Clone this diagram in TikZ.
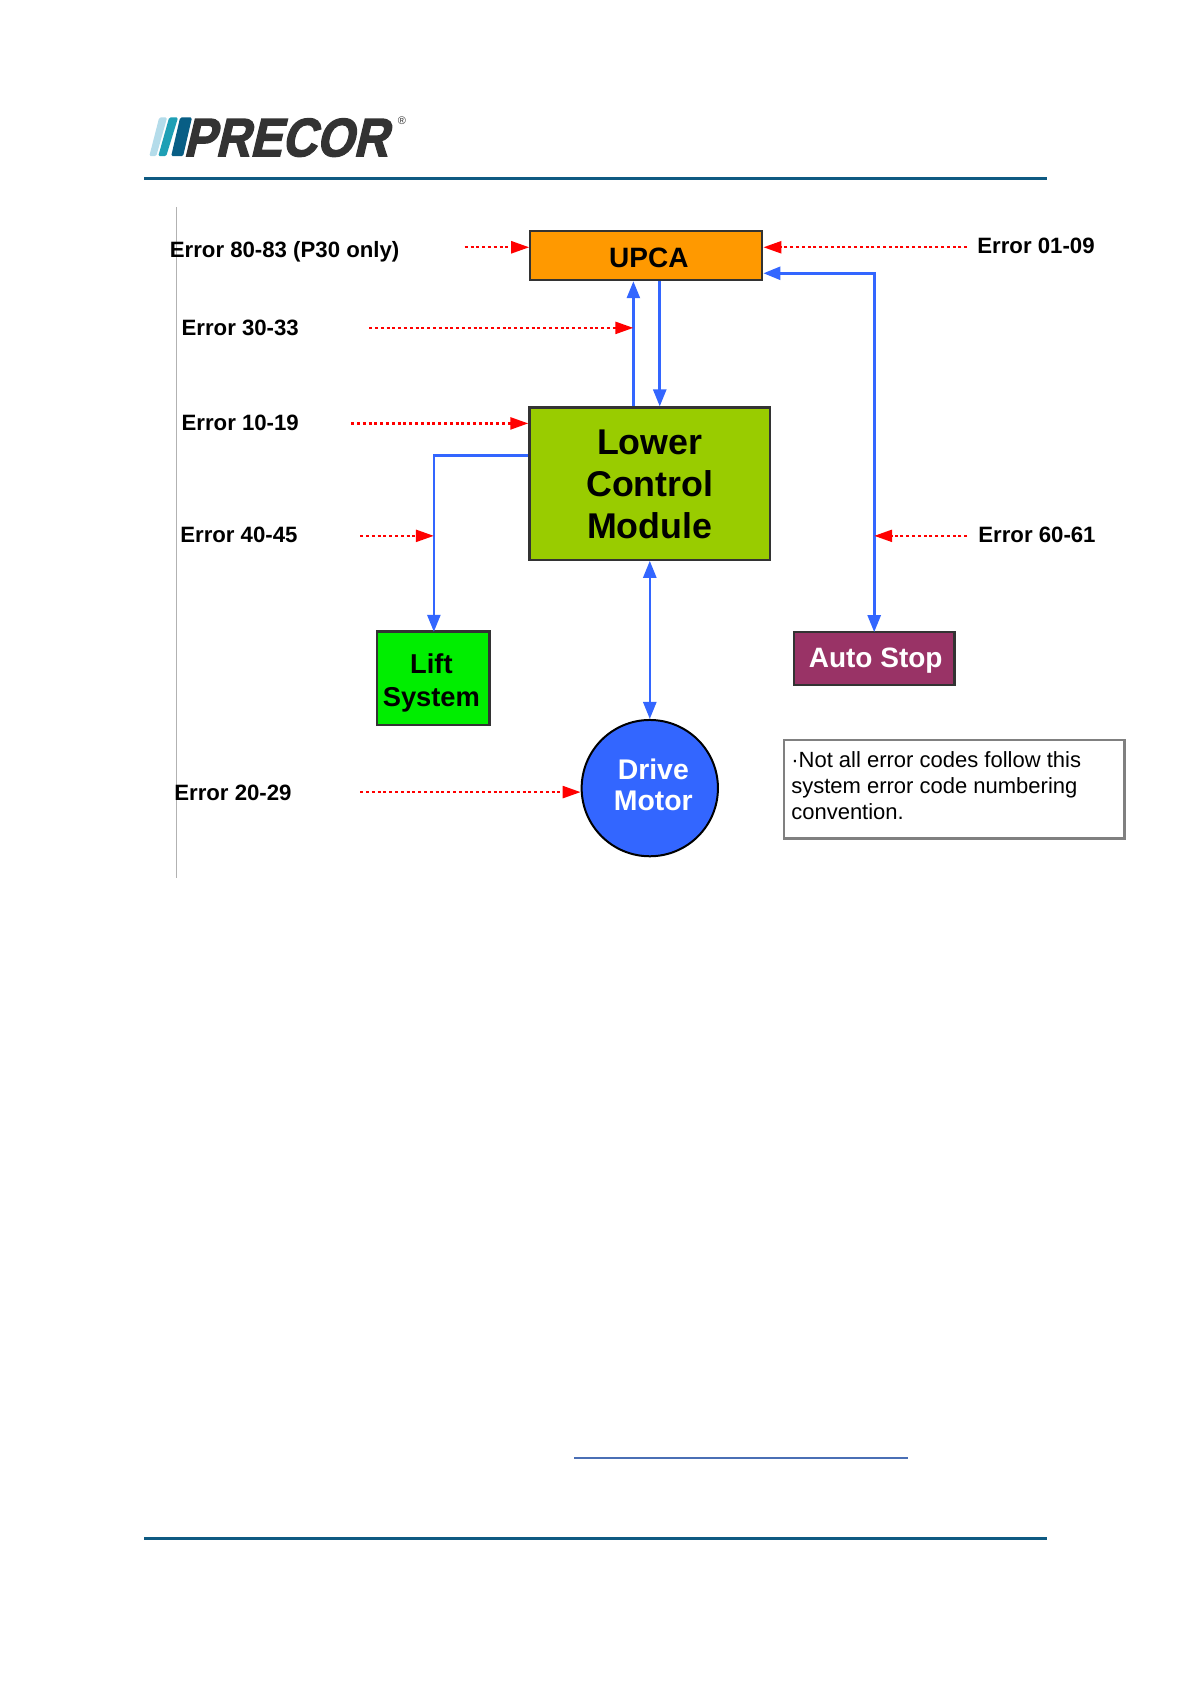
\documentclass[tikz,border=0pt]{standalone}
\usepackage{fontspec}
\setmainfont{Liberation Sans}
\newfontfamily\logofont[FakeBold=2.6,FakeSlant=0.27]{Liberation Sans}
\usetikzlibrary{arrows.meta,shapes.geometric,calc}
\definecolor{rulec}{HTML}{0F5A82}
\definecolor{logod}{HTML}{333333}
\definecolor{barl}{HTML}{B4DCEA}
\definecolor{barm}{HTML}{1E9FB5}
\definecolor{bard}{HTML}{085E85}
\definecolor{flowb}{HTML}{3366FF}
\definecolor{upcac}{HTML}{FF9900}
\definecolor{lcmc}{HTML}{99CC00}
\definecolor{liftc}{HTML}{00EE00}
\definecolor{autoc}{HTML}{993366}
\definecolor{linkc}{HTML}{4A6FB5}
\newcommand{\fs}[2]{\fontsize{#1}{#2}\selectfont}
\tikzset{
  x=0.99509pt,y=-0.99509pt,
  blk/.style={draw=black!80,line width=2.2pt,minimum width=#1,inner sep=0pt,align=center,font=\bfseries},
  errlabel/.style={anchor=base west,inner sep=0pt,font=\fs{22.2}{26}\bfseries},
  flow/.style={draw=flowb,line width=2.6pt,-{Triangle[length=17pt,width=13pt,fill=flowb]}},
  flowboth/.style={draw=flowb,line width=2.6pt,{Triangle[length=17pt,width=13pt,fill=flowb]}-{Triangle[length=17pt,width=13pt,fill=flowb]}},
  fault/.style={draw=red,line width=2.4pt,dash pattern=on 3pt off 2.8pt,-{Triangle[length=18pt,width=12pt,fill=red,sep=0pt]}},
}
\begin{document}
\begin{tikzpicture}
\useasboundingbox (0,0) rectangle (1196.86,1692.3);
% page rules
\draw[rulec,line width=3pt] (145,179) -- (1052,179);
\draw[rulec,line width=3pt] (145,1546.5) -- (1052,1546.5);
\draw[linkc,line width=1.4pt] (577,1465) -- (912,1465);
\draw[black!30,line width=1pt] (177.5,208) -- (177.5,882);
% logo
\fill[barl,rounded corners=1.5pt] (160,118) -- (168,118) -- (157,157) -- (150,157) -- cycle;
\fill[barm,rounded corners=1.5pt] (170,118) -- (179,118) -- (167,157) -- (159,157) -- cycle;
\fill[bard,rounded corners=1.5pt] (181,118) -- (193,118) -- (184,157) -- (172,157) -- cycle;
\node[anchor=base west,inner sep=0pt,text=logod,xscale=0.885] (logo) at (184,157) {\logofont\fs{54}{54}\bfseries PRECOR};
\node[anchor=center,inner sep=0pt,text=logod] (reg) at (404,121) {\fs{11}{11}®};
% blocks
\node[blk=232pt,minimum height=48.8pt,fill=upcac] (upca) at (649.5,257) {};
\node[inner sep=0pt,font=\fs{28}{30}\bfseries] (upcat) at (652,259) {UPCA};
\node[blk=240.8pt,minimum height=152.2pt,fill=lcmc] (lcm) at (653,486) {};
\node[inner sep=0pt,align=center,font=\fs{35.8}{42}\bfseries] (lcmt) at (653,487) {Lower\\Control\\Module};
\node[blk=112.4pt,minimum height=93.5pt,fill=liftc] (lift) at (435.5,681.5) {};
\node[inner sep=0pt,align=center,font=\fs{27.3}{33}\bfseries] (liftt) at (433.5,686) {Lift\\System};
\node[blk=160.5pt,minimum height=53pt,fill=autoc] (auto) at (878.5,661.5) {};
\node[inner sep=0pt,text=white,font=\fs{28}{30}\bfseries] (autot) at (880,664) {Auto Stop};
\node[circle,draw=black,line width=2pt,fill=flowb,minimum size=136.3pt,inner sep=0pt] (drive) at (653,792) {};
\node[inner sep=0pt,align=center,text=white,font=\fs{28.4}{31}\bfseries] (drivet) at (656.5,789) {Drive\\Motor};
\node[draw=black!50,line width=2.4pt,minimum width=340.3pt,minimum height=98.5pt,inner sep=0pt] (note) at (959,793) {};
\node[anchor=north west,inner sep=0pt,align=left,font=\fs{22}{25.7}\selectfont] (notet) at (795,755.5) {·Not all error codes follow this\\system error code numbering\\convention.};
% labels
\node[errlabel] (e80) at (170.5,258.5) {Error 80-83 (P30 only)};
\node[errlabel] (e30) at (182.3,337) {Error 30-33};
\node[errlabel] (e10) at (182.3,432.5) {Error 10-19};
\node[errlabel] (e40) at (181,545) {Error 40-45};
\node[errlabel] (e20) at (175,804) {Error 20-29};
\node[errlabel] (e01) at (982,255) {Error 01-09};
\node[errlabel] (e60) at (983,545) {Error 60-61};
% junctions
\coordinate (s80) at (467,248.5);
\coordinate (s30) at (371,329.5);
\coordinate (s10) at (353,425.5);
\coordinate (s40) at (362,538.5);
\coordinate (s20) at (362,796);
\coordinate (s01) at (972,248.5);
\coordinate (s60) at (972,538.5);
\coordinate (upB) at (636.5,329.5);
\coordinate (llB) at (436,538.5);
\coordinate (arB) at (878.5,538.5);
\coordinate (upcaLow) at ($(upca.south east)+(0,-8)$);
% flows
\draw[flow] (lcm.north -| upB) -- (upca.south -| upB);
\draw[flow] (upca.south -| 663,0) -- (lcm.north -| 663,0);
\draw[flow,shorten >=-1.5pt] (lcm.west |- 0,457.5) -| (lift.north -| 436,0);
\draw[flowboth] (lcm.south -| drive.north) -- (drive.north);
\draw[flowboth,shorten >=-1.5pt] (upcaLow) -| (auto.north -| 878.5,0);
% faults
\draw[fault] (s80) -- (s80 -| upca.west);
\draw[fault] (s30) -- (upB);
\draw[fault] (s10) -- (s10 -| lcm.west);
\draw[fault] (s40) -- (llB);
\draw[fault] (s20) -- (s20 -| drive.west);
\draw[fault] (s01) -- (s01 -| upca.east);
\draw[fault] (s60) -- (arB);
\end{tikzpicture}
\end{document}
